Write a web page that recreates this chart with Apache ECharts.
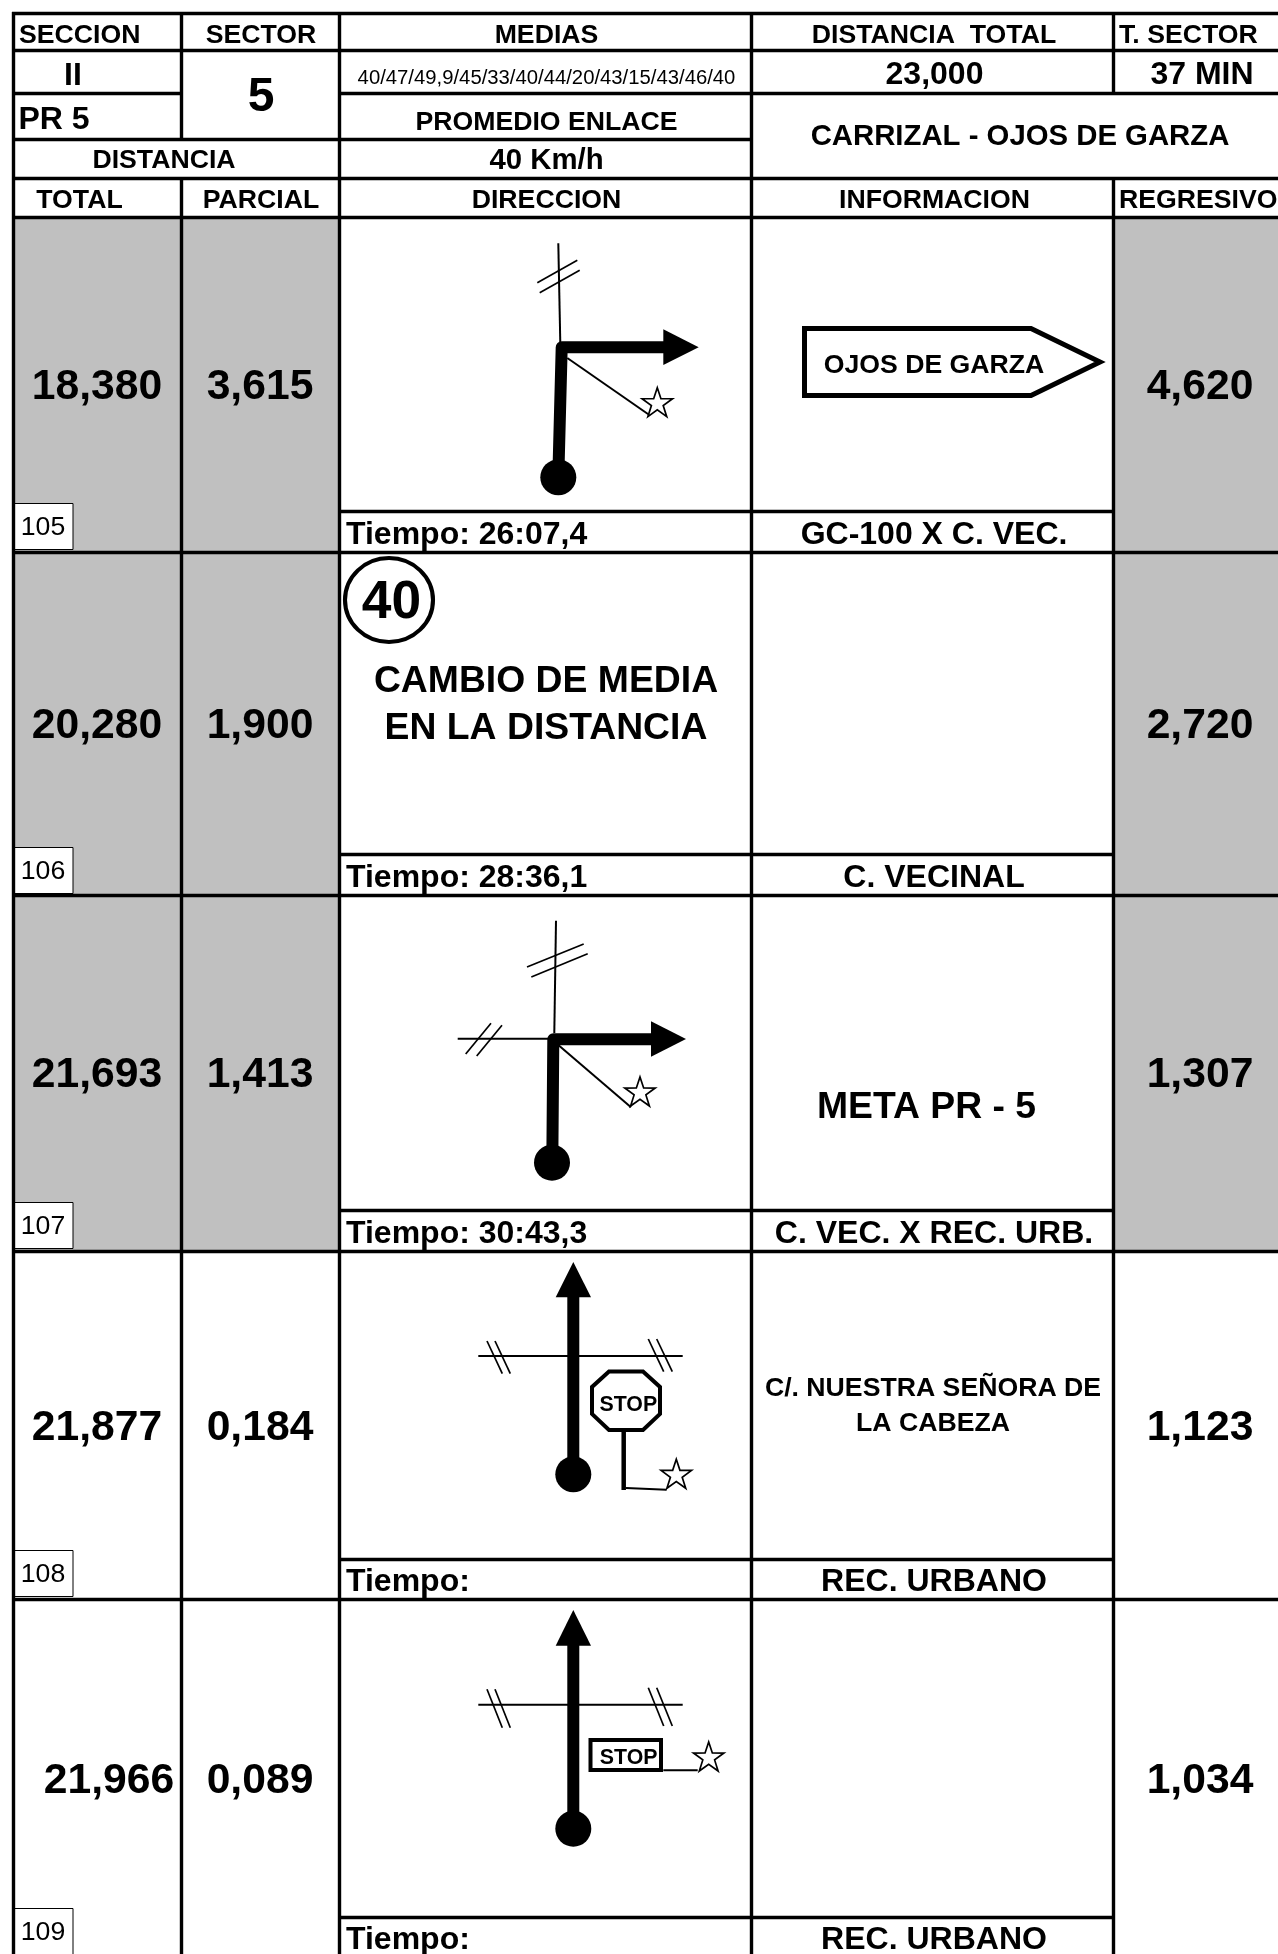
<!DOCTYPE html>
<html>
<head>
<meta charset="utf-8">
<title>Sector 5</title>
<style>
  html, body { margin: 0; padding: 0; background: #fff; }
  #main { width: 1278px; height: 1954px; }
</style>
<script src="https://cdn.jsdelivr.net/npm/echarts@6/dist/echarts.min.js"></script>
</head>
<body>
<div id="main"></div>
<script>
// values read from the sheet
var totalKm = ['18,380', '20,280', '21,693', '21,877', '21,966'];
var partialKm = ['3,615', '1,900', '1,413', '0,184', '0,089'];
var regressiveKm = ['4,620', '2,720', '1,307', '1,123', '1,034'];
var refNumbers = ['105', '106', '107', '108', '109'];
var tiempos = ['Tiempo: 26:07,4', 'Tiempo: 28:36,1', 'Tiempo: 30:43,3', 'Tiempo:', 'Tiempo:'];
var streets = ['GC-100 X C. VEC.', 'C. VECINAL', 'C. VEC. X REC. URB.', 'REC. URBANO', 'REC. URBANO'];
var mediasList = '40/47/49,9/45/33/40/44/20/43/15/43/46/40';
var headers = ['SECCION', 'SECTOR', 'MEDIAS', 'DISTANCIA  TOTAL', 'T. SECTOR'];
var subHeaders = ['TOTAL', 'PARCIAL', 'DIRECCION', 'INFORMACION', 'REGRESIVO'];

// sheet layout, in picture pixels (the axes below run 0-1278 and 0-1954)
var colX = [13.5, 181.5, 339.5, 751.5, 1113.5];
var colMid = [97, 260, 546.5, 934, 1200];
var rowBottom = [552.5, 895.5, 1251.5, 1599.5];
var subLine = [511.5, 854.5, 1210.5, 1559.5, 1917.5];
var bigY = [385, 724, 1073, 1426, 1779];
var tiempoY = [533, 876, 1232, 1580, 1938];
var boxY = [503, 847, 1202, 1550, 1908];
var totalX = [97, 97, 97, 97, 109];
var W = 1278, H = 1954;
var F_HEAD = 26.67, F_BIG = 42.67, F_MID = 32, F_LARGE = 37.33;

var greyCells = [
  [colX[0], 217, colX[1], 1251],
  [colX[1], 217, colX[2], 1251],
  [colX[4], 217, W, 1251]
];

var rules = [
  [12, 13.5, W, 13.5], [12, 50.5, W, 50.5],
  [12, 93.5, colX[1], 93.5], [colX[2], 93.5, W, 93.5],
  [12, 139.5, colX[3], 139.5],
  [12, 178.5, W, 178.5], [12, 217.5, W, 217.5],
  [colX[0], 12, colX[0], H], [colX[2], 12, colX[2], H], [colX[3], 12, colX[3], H],
  [colX[1], 12, colX[1], 139.5], [colX[1], 178.5, colX[1], H],
  [colX[4], 12, colX[4], 93.5], [colX[4], 178.5, colX[4], H]
];
rowBottom.forEach(function (y) { rules.push([12, y, W, y]); });
subLine.forEach(function (y) { rules.push([colX[2], y, colX[4], y]); });

// road sketches
var sideRoads = [
  [[558.3, 243.3], [560.3, 343.3]],
  [[556, 920.7], [554.3, 1033]],
  [[457.7, 1038.7], [553, 1038.7]],
  [[478.3, 1356], [682.7, 1356]],
  [[478.3, 1704.7], [682.7, 1704.7]]
];
var crossTicks = [
  [[537.3, 282.7], [577.3, 260.3]], [[539.7, 292.7], [579.7, 270.3]],
  [[527, 967], [583.7, 944]], [[531.3, 977], [587.7, 953.7]],
  [[465.7, 1054], [491, 1023.3]], [[476.7, 1056], [502, 1025.3]],
  [[487, 1341], [502.3, 1373.7]], [[495, 1341], [510.3, 1373.7]],
  [[648.3, 1339], [663.7, 1371.7]], [[656.7, 1339], [672.3, 1371.7]],
  [[487, 1689.3], [502.3, 1727.7]], [[495, 1689.3], [510.3, 1727.7]],
  [[648.3, 1687.7], [663.7, 1726]], [[656.7, 1687.7], [672.3, 1726]]
];
var pointerLines = [
  [[567.3, 358], [648.3, 414.3]],
  [[558.3, 1045], [631, 1107.3]],
  [[626, 1488], [666.7, 1489.7]],
  [[663.3, 1770.3], [697.7, 1770.3]]
];
var routes = [
  [[558.3, 477.3], [561.7, 347.3], [665, 347.3]],
  [[552.3, 1162.7], [553.3, 1039.3], [651, 1039.3]],
  [[573.3, 1474.3], [573.3, 1296]],
  [[573.3, 1828.7], [573.3, 1645]]
];
var arrowHeads = [
  [[663.3, 329.3], [698.7, 347.3], [663.3, 365]],
  [[651, 1021.3], [686, 1039], [651, 1056.7]],
  [[555.7, 1297.3], [573.3, 1262], [591, 1297.3]],
  [[555.7, 1645.7], [573.3, 1610], [591, 1645.7]]
];
var startDots = [[558.3, 477.3], [552, 1162.7], [573.3, 1474.3], [573.3, 1828.7]];
var stars = [[657.3, 403.7], [640, 1093], [676.3, 1475.3], [708.7, 1758]];
var signOutline = [[804.5, 328.5], [1031, 328.5], [1100, 362], [1031, 395.5], [804.5, 395.5]];
var stopOctagon = [[609, 1371.5], [643, 1371.5], [660, 1387], [660, 1414], [643, 1430], [609, 1430], [592, 1414], [592, 1387]];
var stopBox = [[590.5, 1740], [661, 1740], [661, 1770], [590.5, 1770]];
var stopPost = [[[623.7, 1432], [623.7, 1490]]];
var mediaCircle = [[389, 600]];

// [text, x, y, size, align, bold]
var labels = [
  [headers[0], 19, 34, F_HEAD, 'left', 1], [headers[1], 261, 34, F_HEAD, 'center', 1],
  [headers[2], colMid[2], 34, F_HEAD, 'center', 1], [headers[3], 934, 34, F_HEAD, 'center', 1],
  [headers[4], 1119, 34, F_HEAD, 'left', 1],
  ['II', 73, 74, F_MID, 'center', 1], ['5', 261, 95, 48, 'center', 1],
  [mediasList, colMid[2], 77.5, 20.3, 'center', 0], ['23,000', 934.5, 73, F_MID, 'center', 1],
  ['37 MIN', 1202, 73, F_MID, 'center', 1],
  ['PR 5', 18.5, 118.5, F_MID, 'left', 1], ['PROMEDIO ENLACE', colMid[2], 121, F_HEAD, 'center', 1],
  ['CARRIZAL - OJOS DE GARZA', 1020, 135, 29.33, 'center', 1],
  ['DISTANCIA', 164, 159, F_HEAD, 'center', 1], ['40 Km/h', colMid[2], 159, 29.33, 'center', 1],
  [subHeaders[0], 79.5, 199.5, F_HEAD, 'center', 1], [subHeaders[1], 261, 199.5, F_HEAD, 'center', 1],
  [subHeaders[2], colMid[2], 199.5, F_HEAD, 'center', 1], [subHeaders[3], 934.5, 199.5, F_HEAD, 'center', 1],
  [subHeaders[4], 1119, 199.5, F_HEAD, 'left', 1],
  ['OJOS DE GARZA', 934, 364, F_HEAD, 'center', 1],
  ['40', 391.5, 600.5, 53.33, 'center', 1],
  ['CAMBIO DE MEDIA', 546, 679, F_LARGE, 'center', 1],
  ['EN LA DISTANCIA', 546, 726, F_LARGE, 'center', 1],
  ['META PR - 5', 926.5, 1105, F_LARGE, 'center', 1],
  ['C/. NUESTRA SEÑORA DE', 933, 1387, F_HEAD, 'center', 1],
  ['LA CABEZA', 933, 1422, F_HEAD, 'center', 1],
  ['STOP', 628.3, 1404.3, 21.33, 'center', 1],
  ['STOP', 628.7, 1757.3, 21.33, 'center', 1]
];
totalKm.forEach(function (v, i) {
  labels.push([v, totalX[i], bigY[i], F_BIG, 'center', 1]);
  labels.push([partialKm[i], colMid[1], bigY[i], F_BIG, 'center', 1]);
  labels.push([regressiveKm[i], colMid[4], bigY[i], F_BIG, 'center', 1]);
  labels.push([tiempos[i], 346, tiempoY[i], F_MID, 'left', 1]);
  labels.push([streets[i], colMid[3], tiempoY[i], F_MID, 'center', 1]);
  labels.push([refNumbers[i], 43, boxY[i] + 23, F_HEAD, 'center', 0]);
});

function starPoints(c) {
  var pts = [];
  for (var i = 0; i < 10; i++) {
    var r = i % 2 ? 6.2 : 16;
    var a = -Math.PI / 2 + i * Math.PI / 5;
    pts.push([c[0] + r * Math.cos(a), c[1] + r * Math.sin(a)]);
  }
  return pts;
}

// one custom series over the hidden axes, one element per item
function layer(items, draw, z) {
  return {
    type: 'custom',
    coordinateSystem: 'cartesian2d',
    silent: true,
    clip: true,
    z: z || 2,
    data: items.map(function (d, i) { return [i, i]; }),
    renderItem: function (params, api) { return draw(items[params.dataIndex], api); }
  };
}
function toPx(api, pts) { return pts.map(function (p) { return api.coord(p); }); }

function lineLayer(items, width, round) {
  return layer(items, function (pts, api) {
    return {
      type: 'polyline',
      shape: { points: toPx(api, pts) },
      style: { stroke: '#000', lineWidth: width, fill: null, lineJoin: round ? 'round' : 'miter' }
    };
  });
}
function polyLayer(items, fill, stroke, width) {
  return layer(items, function (pts, api) {
    return {
      type: 'polygon',
      shape: { points: toPx(api, pts) },
      style: { fill: fill, stroke: stroke, lineWidth: width, lineJoin: 'miter' }
    };
  }, 3);
}

var myChart = echarts.init(document.getElementById('main'));

var option = {
  animation: false,
  backgroundColor: '#fff',
  grid: { left: 0, right: 0, top: 0, bottom: 0 },
  xAxis: { type: 'value', min: 0, max: W, show: false },
  yAxis: { type: 'value', min: 0, max: H, inverse: true, show: false },
  series: [
    layer(greyCells, function (c, api) {
      var a = api.coord([c[0], c[1]]), b = api.coord([c[2], c[3]]);
      return { type: 'rect', shape: { x: a[0], y: a[1], width: b[0] - a[0], height: b[1] - a[1] }, style: { fill: '#c0c0c0' } };
    }, 1),
    layer(boxY, function (y, api) {
      var a = api.coord([14, y]), b = api.coord([72.5, y + 46]);
      return { type: 'rect', shape: { x: a[0] + 0.5, y: a[1] + 0.5, width: b[0] - a[0], height: b[1] - a[1] }, style: { fill: '#fff', stroke: '#000', lineWidth: 1 } };
    }, 1),
    layer(rules, function (r, api) {
      var a = api.coord([r[0], r[1]]), b = api.coord([r[2], r[3]]);
      return { type: 'line', shape: { x1: a[0], y1: a[1], x2: b[0], y2: b[1] }, style: { stroke: '#000', lineWidth: 3.4 } };
    }),
    lineLayer(sideRoads, 2),
    lineLayer(crossTicks, 1.7),
    lineLayer(pointerLines, 2),
    lineLayer(stopPost, 4.5),
    lineLayer(routes, 12, true),
    polyLayer(arrowHeads, '#000', '#000', 0),
    {
      type: 'scatter', silent: true, data: startDots, z: 3,
      symbol: 'circle', symbolSize: 36, itemStyle: { color: '#000', opacity: 1 }
    },
    {
      type: 'scatter', silent: true, data: mediaCircle, z: 3,
      symbol: 'circle', symbolSize: [88, 84], itemStyle: { color: '#fff', borderColor: '#000', borderWidth: 4, opacity: 1 }
    },
    polyLayer(stars.map(starPoints), '#fff', '#000', 1.7),
    polyLayer([signOutline], '#fff', '#000', 5),
    polyLayer([stopOctagon], '#fff', '#000', 4),
    polyLayer([stopBox], '#fff', '#000', 4),
    layer(labels, function (t, api) {
      // 'middle' sits a little above the centre of capitals, so push down by size
      var p = api.coord([t[1], t[2] + t[3] * 0.06]);
      return {
        type: 'text',
        x: p[0], y: p[1],
        style: {
          text: t[0],
          font: (t[5] ? 'bold ' : '') + t[3] + 'px "Liberation Sans", Arial, sans-serif',
          fill: '#000',
          textAlign: t[4],
          textVerticalAlign: 'middle'
        }
      };
    }, 6)
  ]
};

myChart.setOption(option);
</script>
</body>
</html>
